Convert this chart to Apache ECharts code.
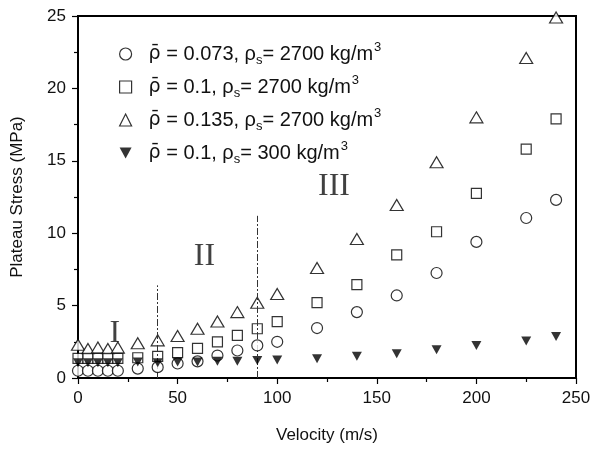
<!DOCTYPE html>
<html>
<head>
<meta charset="utf-8">
<script src="https://cdn.jsdelivr.net/npm/echarts@6/dist/echarts.min.js"></script>
<style>html,body{margin:0;padding:0;background:#fff;}</style>
</head>
<body>
<div id="main" style="width:595px;height:456px;"></div>
<script type="text/javascript">
    // velocities (m/s), shared by every series
    var velocity = [0, 5, 10, 15, 20, 30, 40, 50, 60, 70, 80, 90, 100, 120, 140, 160, 180, 200, 225, 240];

    // plateau stress (MPa)
    var rho073 = [0.5, 0.5, 0.5, 0.5, 0.5, 0.65, 0.75, 1.0, 1.15, 1.55, 1.9, 2.25, 2.5, 3.45, 4.55, 5.7, 7.25, 9.4, 11.05, 12.3];
    var rho100 = [1.35, 1.35, 1.35, 1.35, 1.35, 1.4, 1.5, 1.75, 2.05, 2.5, 2.95, 3.4, 3.9, 5.2, 6.45, 8.5, 10.1, 12.75, 15.8, 17.9];
    var rho135 = [2.3, 2.0, 2.1, 2.0, 2.1, 2.4, 2.6, 2.9, 3.4, 3.9, 4.55, 5.2, 5.8, 7.6, 9.6, 11.95, 14.9, 18.0, 22.1, 24.9];
    var rho100s300 = [1.05, 1.05, 1.05, 1.05, 1.05, 1.1, 1.05, 1.1, 1.1, 1.15, 1.15, 1.2, 1.25, 1.33, 1.5, 1.68, 1.95, 2.25, 2.55, 2.87];

    var legendNames = ['0.073|2700', '0.1|2700', '0.135|2700', '0.1|300'];

    // regime boundaries (dash-dot lines)
    var boundaryX = [40, 90];
    var boundaryTop = [6.4, 11.2];

    // regime labels
    var regionText = ['I', 'II', 'III'];
    var regionX = [18.5, 63.5, 128.5];
    var regionY = [3.05, 8.4, 13.2];

    function pairs(ys) {
        return velocity.map(function (v, i) { return [v, ys[i]]; });
    }

    var myChart = echarts.init(document.getElementById('main'));

    var ink = '#000';
    var hollow = { color: '#fff', borderColor: ink, borderWidth: 1.2 };
    var frameAxis = {
        show: true,
        axisLine: { show: true, onZero: false, lineStyle: { color: ink, width: 2 } },
        axisTick: { show: false }, axisLabel: { show: false }, splitLine: { show: false }
    };

    var option = {
        animation: false,
        textStyle: { fontFamily: 'Liberation Sans' },
        grid: {
            left: 78, right: 19, top: 16, bottom: 78,
            show: true, borderColor: ink, borderWidth: 2, backgroundColor: 'rgba(0,0,0,0)'
        },
        legend: {
            orient: 'vertical',
            left: 114, top: 36,
            itemWidth: 12, itemHeight: 12, itemGap: 7,
            data: [
                { name: legendNames[0], icon: 'circle', itemStyle: { color: '#fff', borderColor: ink, borderWidth: 1.2 } },
                { name: legendNames[1], icon: 'rect', itemStyle: { color: '#fff', borderColor: ink, borderWidth: 1.2 } },
                { name: legendNames[2], icon: 'triangle', itemStyle: { color: '#fff', borderColor: ink, borderWidth: 1.2 } },
                { name: legendNames[3], icon: 'path://M0,0 L10,0 L5,9 Z', itemStyle: { color: ink } }
            ],
            formatter: function (name) {
                var p = name.split('|');
                return '{r|ρ\u0304}{a| = ' + p[0] + ', ρ}{s|s}{a|= ' + p[1] + ' kg/m}{p|3}';
            },
            textStyle: {
                rich: {
                    r: { fontFamily: 'DejaVu Sans', fontSize: 19, color: '#111', lineHeight: 26, padding: [0, 0, 0, 12] },
                    a: { fontSize: 20, color: '#111', lineHeight: 26 },
                    s: { fontSize: 13, color: '#111', lineHeight: 14, verticalAlign: 'bottom' },
                    p: { fontSize: 13, color: '#111', lineHeight: 14, verticalAlign: 'top', padding: [0, 0, 0, 1] }
                }
            }
        },
        xAxis: [{
            type: 'value', min: 0, max: 250, interval: 50, position: 'bottom',
            name: 'Velocity (m/s)', nameLocation: 'middle', nameGap: 49,
            nameTextStyle: { fontSize: 17, color: '#111' },
            axisLine: { show: true, onZero: false, lineStyle: { color: ink, width: 2 } },
            axisTick: { length: 6, lineStyle: { color: ink, width: 1.2 } },
            minorTick: { show: true, splitNumber: 2, length: 4, lineStyle: { color: ink, width: 1.2 } },
            axisLabel: { fontSize: 17, color: '#111', margin: 12 },
            splitLine: { show: false }
        }, Object.assign({ type: 'value', position: 'top', min: 0, max: 250 }, frameAxis)],
        yAxis: [{
            type: 'value', min: 0, max: 25, interval: 5, position: 'left',
            name: 'Plateau Stress (MPa)', nameLocation: 'middle', nameGap: 52,
            nameTextStyle: { fontSize: 17, color: '#111' },
            axisLine: { show: true, onZero: false, lineStyle: { color: ink, width: 2 } },
            axisTick: { show: true, length: 6, lineStyle: { color: ink, width: 1.2 } },
            minorTick: { show: true, splitNumber: 2, length: 4, lineStyle: { color: ink, width: 1.2 } },
            axisLabel: { fontSize: 17, color: '#111', margin: 12 },
            splitLine: { show: false }
        }, Object.assign({ type: 'value', position: 'right', min: 0, max: 25 }, frameAxis)],
        series: [
            {
                name: legendNames[2], type: 'scatter', symbol: 'triangle', symbolSize: [13, 11],
                itemStyle: hollow, data: pairs(rho135), z: 3
            },
            {
                name: legendNames[1], type: 'scatter', symbol: 'rect', symbolSize: 10,
                itemStyle: hollow, data: pairs(rho100), z: 4
            },
            {
                name: legendNames[0], type: 'scatter', symbol: 'circle', symbolSize: 11,
                itemStyle: hollow, data: pairs(rho073), z: 5
            },
            {
                name: legendNames[3], type: 'scatter', symbol: 'triangle', symbolRotate: 180, symbolSize: [10, 9],
                itemStyle: { color: ink }, data: pairs(rho100s300), z: 6,
                markLine: {
                    silent: true, symbol: 'none', label: { show: false },
                    lineStyle: { color: '#333', width: 1, type: [7, 2, 2, 2] },
                    data: boundaryX.map(function (x, i) {
                        return [{ coord: [x, 0] }, { coord: [x, boundaryTop[i]] }];
                    })
                }
            },
            {
                type: 'scatter', symbolSize: 0, silent: true,
                xAxisIndex: 1, yAxisIndex: 1,
                data: regionText.map(function (t, i) { return [regionX[i], regionY[i], t]; }),
                label: {
                    show: true, position: 'inside',
                    formatter: function (p) { return p.value[2]; },
                    fontFamily: 'Liberation Serif', fontSize: 32, color: '#111'
                }
            }
        ]
    };

    myChart.setOption(option);
</script>
</body>
</html>
